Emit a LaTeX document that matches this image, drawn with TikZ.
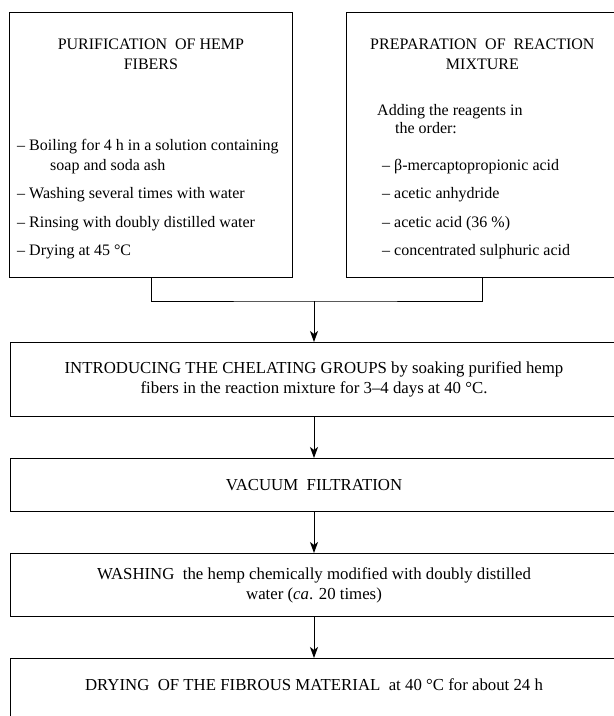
\documentclass[tikz,border=0pt]{standalone}
\usepackage{fontspec}
\setmainfont{Liberation Serif}
\usetikzlibrary{arrows.meta}
\tikzset{
  frame/.style={draw, line width=0.8pt, inner sep=0pt},
  stepbox/.style={frame, anchor=north, minimum width=608pt, align=center, font=\fontsize{16.8}{20}\selectfont},
  txt/.style={inner sep=0pt, anchor=north west, align=left},
  flow/.style={line width=0.8pt, -{Stealth[length=11pt,width=8pt,inset=3pt]}},
}
\begin{document}
\begin{tikzpicture}[x=1pt, y=-1pt, font=\fontsize{16}{20}\selectfont]
    \useasboundingbox (0,0) rectangle (614,716);
    % the two starting boxes
    \node[frame, anchor=north west, minimum width=283pt, minimum height=265pt] (purif) at (9,12) {};
    \node[frame, anchor=north west, minimum width=272pt, minimum height=265pt] (prep) at (346,12) {};
    \node[inner sep=0pt, anchor=north, align=center] (purif title) at (purif.north |- 0,39) {PURIFICATION\ \ OF HEMP\\FIBERS};
    \node[txt] (purif list) at (17,139) {-- Boiling for 4 h in a solution containing\\
      \hspace*{33pt}soap and soda ash\\[8pt]
      -- Washing several times with water\\[9pt]
      -- Rinsing with doubly distilled water\\[8pt]
      -- Drying at 45 °C};
    \node[inner sep=0pt, anchor=north, align=center] (prep title) at (prep.north |- 0,39) {PREPARATION\ \ OF\ \ REACTION\\MIXTURE};
    \node[txt] (prep order) at (377,104) {Adding the reagents in\\[-2pt] \hspace*{18pt}the order:};
    \node[txt] (prep list) at (382,159) {-- β-mercaptopropionic acid\\[8.5pt]
      -- acetic anhydride\\[8.5pt]
      -- acetic acid (36 \%)\\[8.5pt]
      -- concentrated sulphuric acid};
    % the steps below
    \node[stepbox, minimum height=74pt] (chel) at (314,342) {INTRODUCING THE CHELATING GROUPS by soaking purified hemp\\fibers in the reaction mixture for 3--4 days at 40 °C.};
    \node[stepbox, minimum height=53pt] (filt) at (314,458) {VACUUM\ \ FILTRATION};
    \node[stepbox, minimum height=63pt] (wash) at (314,553) {WASHING\ \ the hemp chemically modified with doubly distilled\\water (\textit{ca}. 20 times)};
    \node[stepbox, text height=32pt, text depth=28pt] (dry) at (314,658) {DRYING\ \ OF THE FIBROUS MATERIAL\ \ at 40 °C for about 24 h};
    % connectors
    \coordinate (join) at (314,301);
    \draw[line width=0.8pt] (purif.south) |- (join) -| (prep.south);
    \draw[flow] (join) -- (chel.north);
    \draw[flow] (chel) -- (filt);
    \draw[flow] (filt) -- (wash);
    \draw[flow] (wash) -- (dry);
\end{tikzpicture}
\end{document}
